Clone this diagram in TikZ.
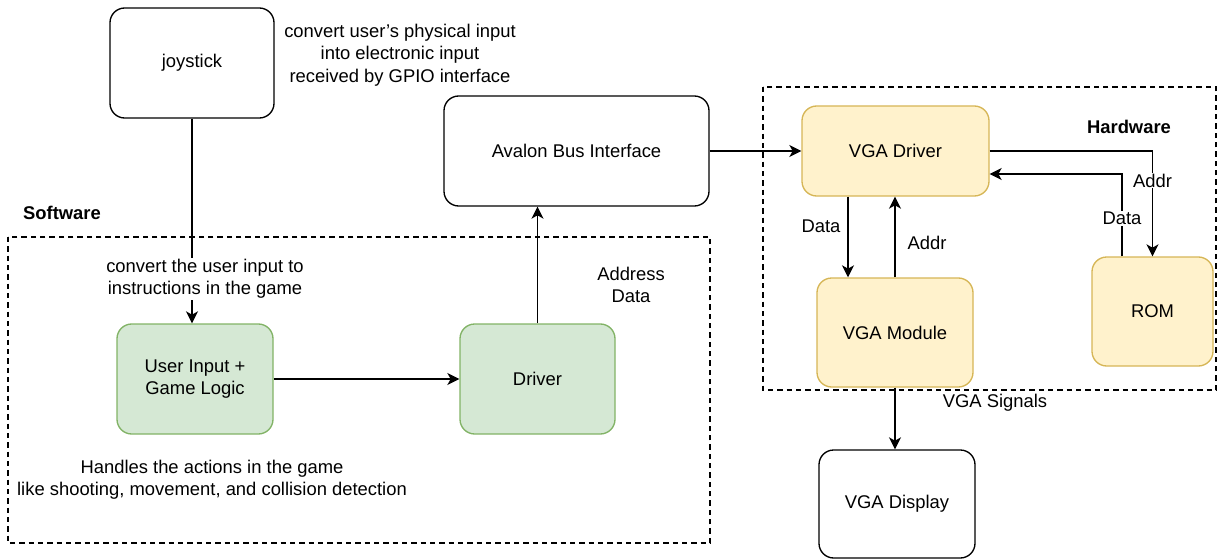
\documentclass[tikz,border=0pt]{standalone}
\usepackage{fontspec}
\setmainfont{Liberation Sans}
\usetikzlibrary{arrows.meta}

\begin{document}
\fontsize{13.8pt}{16.8pt}\selectfont
\begin{tikzpicture}[x=0.75pt,y=0.75pt,yscale=-1,xscale=1,
  blk/.style={draw, rounded corners=11pt, line width=1pt, inner sep=0.75pt, align=center},
  swblk/.style={blk, draw={rgb,255:red,130;green,179;blue,102}, fill={rgb,255:red,213;green,232;blue,212}},
  hwblk/.style={blk, draw={rgb,255:red,214;green,182;blue,86}, fill={rgb,255:red,255;green,242;blue,204}},
  link/.style={line width=1pt, -{Stealth[length=9pt,width=9pt,inset=2.5pt]}},
  grp/.style={line width=0.8pt, dash pattern=on 4pt off 3pt},
  lbl/.style={inner sep=0.75pt, align=center}]
\useasboundingbox (0,0) rectangle (1218,560);

%Group: Software
\draw [grp] (8,237) rectangle (710,543) ;
%Group: Hardware
\draw [grp] (763,87) rectangle (1216,390) ;

%Shape: Rounded Rect
\node [blk, minimum width=123pt, minimum height=82.5pt] (joy) at (192,63) {joystick};
\node [blk, minimum width=198.75pt, minimum height=82.5pt] (avalon) at (576.5,151) {Avalon Bus Interface};
\node [swblk, minimum width=117pt, minimum height=82.5pt] (logic) at (195,379) {User Input +\\Game Logic};
\node [swblk, minimum width=116.25pt, minimum height=82.5pt] (drv) at (537.5,379) {Driver};
\node [hwblk, minimum width=140.25pt, minimum height=67.5pt] (vgadrv) at (895.5,151) {VGA Driver};
\node [hwblk, minimum width=117pt, minimum height=81.75pt] (vgamod) at (895,332.5) {VGA Module};
\node [hwblk, minimum width=90.75pt, minimum height=81.75pt] (rom) at (1152.5,311.5) {ROM};
\node [blk, minimum width=117pt, minimum height=81pt] (disp) at (897,504) {VGA Display};

%Straight Lines
\draw [link] (joy.south) -- (joy.south |- logic.north) ;
\draw [link] (logic) -- (drv) ;
\draw [link] (drv.north) -- (drv.north |- avalon.south) ;
\draw [link] (avalon) -- (vgadrv) ;
\draw [link] ([xshift=-35.6pt]vgadrv.south) -- ([xshift=-35.6pt]vgadrv.south |- vgamod.north) ;
\draw [link] (vgamod.north) -- (vgamod.north |- vgadrv.south) ;
\draw [link] (vgadrv.east) -| (rom.north) node [lbl, fill=white, pos=0.64] (romaddr) {Addr} ;
\draw [link] ([xshift=-22.9pt]rom.north) |- ([yshift=17.25pt]vgadrv.east) node [lbl, fill=white, pos=0.23] (romdata) {Data} ;
\draw [link] (vgamod.south) -- (vgamod.south |- disp.north) ;

% Text Node
\node [lbl] (joynote) at (400,55) {convert user's physical input\\into electronic input\\received by GPIO interface};
\node [lbl, fill=white] (inputnote) at (205,279) {convert the user input to\\instructions in the game};
\node [lbl] (busnote) at (631,285) {Address\\Data};
\node [lbl] (gamenote) at (212,480) {Handles the actions in the game\\like shooting, movement, and collision detection};
\node [lbl, font=\bfseries] (swtitle) at (62,213) {Software};
\node [lbl, font=\bfseries] (hwtitle) at (1129,127) {Hardware};
\node [lbl] (moddata) at (821,226) {Data};
\node [lbl] (modaddr) at (927,243) {Addr};
\node [lbl] (vgasig) at (995,403) {VGA Signals};

\end{tikzpicture}
\end{document}
